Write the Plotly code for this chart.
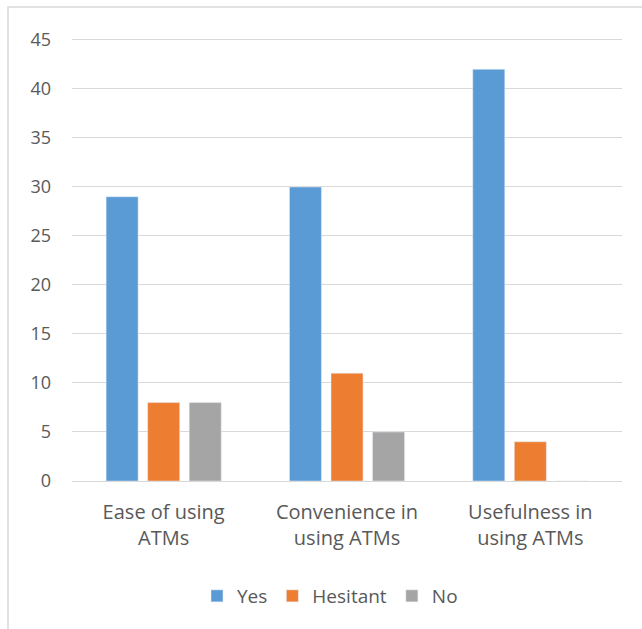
import plotly.graph_objects as go

categories = ["Ease of using<br>ATMs", "Convenience in<br>using ATMs", "Usefulness in<br>using ATMs"]
yes_vals = [29, 30, 42]
hesitant_vals = [8, 11, 4]
no_vals = [8, 5, 0]
y_ticks = [0, 5, 10, 15, 20, 25, 30, 35, 40, 45]

fig = go.Figure()
fig.add_bar(name="Yes", x=categories, y=yes_vals, marker_color="#5B9BD5")
fig.add_bar(name="Hesitant", x=categories, y=hesitant_vals, marker_color="#ED7D31")
fig.add_bar(name="No", x=categories, y=no_vals, marker_color="#A5A5A5")

L, R, T, B = 72, 20, 37, 148
W, H = 642, 629
pw, ph = W - L - R, H - T - B

fig.update_layout(
    width=W, height=H,
    margin=dict(l=L, r=R, t=T, b=B),
    plot_bgcolor="white", paper_bgcolor="white",
    barmode="group", bargap=0.32, bargroupgap=0.23,
    font=dict(family="Open Sans", size=18, color="#595959"),
    legend=dict(orientation="h", x=(330 - L) / pw, xanchor="center",
                y=(H - B - 596) / ph, yanchor="middle",
                font=dict(size=19, color="#595959"), itemwidth=30,
                tracegroupgap=0),
    showlegend=True,
)
fig.update_yaxes(range=[0, 45.3], tickvals=y_ticks, showgrid=True, gridcolor="#D9D9D9",
                 gridwidth=1.3, zeroline=False, showline=False, ticks="",
                 tickfont=dict(size=18, color="#595959"), ticklabelstandoff=20)
fig.update_xaxes(showline=True, linecolor="#D9D9D9", linewidth=1.3, ticks="",
                 tickfont=dict(size=20, color="#595959"), ticklabelstandoff=13)
fig.add_shape(type="rect", xref="paper", yref="paper",
              x0=(8 - L) / pw, x1=1.2, y0=-0.5, y1=(H - B - 7) / ph,
              line=dict(color="#D9D9D9", width=1.5), fillcolor="rgba(0,0,0,0)", layer="below")

fig.write_html("out.html")
